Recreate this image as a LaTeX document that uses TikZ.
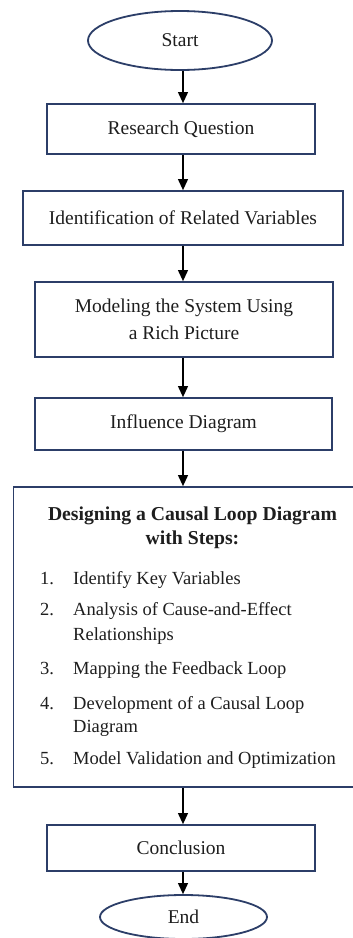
\documentclass[tikz,border=0pt]{standalone}
\usepackage{fontspec}
\setmainfont{Liberation Serif}
\usetikzlibrary{arrows.meta,shapes.geometric}
\definecolor{framenavy}{RGB}{44,62,104}
\definecolor{inkgray}{RGB}{30,30,30}
\begin{document}
\begin{tikzpicture}[x=1pt,y=-1pt,
  every node/.style={text=inkgray},
  stepbox/.style={draw=framenavy,line width=1.8pt,rectangle,inner sep=0pt,
    align=center,font=\fontsize{19.5}{27}\selectfont},
  terminal/.style={draw=framenavy,line width=1.8pt,ellipse,inner sep=0pt,
    font=\fontsize{19.5}{24}\selectfont},
  flow/.style={line width=1.1pt,black,-{Triangle[length=11pt,width=10pt]}},
  titleline/.style={anchor=base,inner sep=0pt,font=\fontsize{19.7}{24}\selectfont\bfseries},
  itemnum/.style={anchor=base west,inner sep=0pt,font=\fontsize{18.5}{24}\selectfont},
  itemtext/.style={anchor=base west,inner sep=0pt,font=\fontsize{18.5}{24}\selectfont}
]
\clip (0,0) rectangle (353,938);
\fill[white] (0,0) rectangle (353,938);
\coordinate (spine) at (183,0);

% terminals and process boxes
\node[terminal,minimum width=184pt,minimum height=59pt] (start) at (180,40.5) {Start};
\node[stepbox,minimum width=268pt,minimum height=50pt] (rq) at (181,129) {Research Question};
\node[stepbox,minimum width=320pt,minimum height=54pt] (idv) at (183,218) {Identification of Related Variables};
\node[stepbox,minimum width=298pt,minimum height=75pt] (rich) at (184,319.5) {Modeling the System Using\\a Rich Picture};
\node[stepbox,minimum width=297pt,minimum height=52pt] (infl) at (183.5,424) {Influence Diagram};
\node[stepbox,minimum width=348pt,minimum height=300pt] (cld) at (187.5,637) {};
\node[stepbox,minimum width=268pt,minimum height=46pt] (concl) at (181,848) {Conclusion};
\node[terminal,minimum width=167pt,minimum height=44pt] (end) at (183.5,917) {End};

% contents of the causal loop diagram box
\node[titleline] (cldtitleA) at (192.5,520) {Designing a Causal Loop Diagram};
\node[titleline] (cldtitleB) at (192.5,544) {with Steps:};

\node[itemnum] (n1) at (40,584) {1.};
\node[itemtext] (s1) at (73,584) {Identify Key Variables};
\node[itemnum] (n2) at (40,615) {2.};
\node[itemtext] (s2a) at (73,615) {Analysis of Cause-and-Effect};
\node[itemtext] (s2b) at (73,640) {Relationships};
\node[itemnum] (n3) at (40,674) {3.};
\node[itemtext] (s3) at (73,674) {Mapping the Feedback Loop};
\node[itemnum] (n4) at (40,709) {4.};
\node[itemtext] (s4a) at (73,709) {Development of a Causal Loop};
\node[itemtext] (s4b) at (73,732) {Diagram};
\node[itemnum] (n5) at (40,764) {5.};
\node[itemtext] (s5) at (73,764) {Model Validation and Optimization};

% connectors along the central spine
\draw[flow] (start.south -| spine) -- (rq.north -| spine);
\draw[flow] (rq.south -| spine) -- (idv.north -| spine);
\draw[flow] (idv.south -| spine) -- (rich.north -| spine);
\draw[flow] (rich.south -| spine) -- (infl.north -| spine);
\draw[flow] (infl.south -| spine) -- (cld.north -| spine);
\draw[flow] (cld.south -| spine) -- (concl.north -| spine);
\draw[flow] (concl.south -| spine) -- (end.north -| spine);
\end{tikzpicture}
\end{document}
